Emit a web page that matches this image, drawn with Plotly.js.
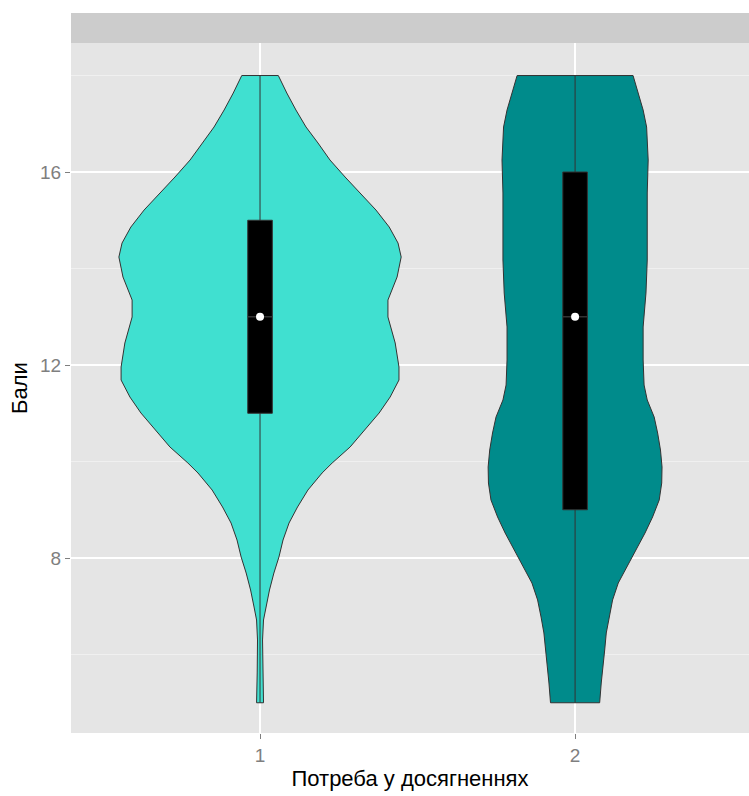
<!DOCTYPE html>
<html>
<head>
<meta charset="utf-8">
<script src="https://cdn.plot.ly/plotly-3.0.1.min.js"></script>
<style>html,body{margin:0;padding:0;background:#fff;}#chart{width:749px;height:796px;}</style>
</head>
<body>
<div id="chart"></div>
<script>
// ---- data ----
const groups = [1, 2];
const groupLabels = ['1', '2'];
const fillColors = ['#40E0D0', '#008B8B'];

// violin density profiles: score levels and half-widths (in x-axis units)
const v1Levels = [18.0, 17.637, 17.285, 16.933, 16.601, 16.249, 15.896, 15.565, 15.212, 14.86, 14.528, 14.238, 13.824, 13.347, 12.995, 12.456, 11.959, 11.689, 11.337, 11.005, 10.653, 10.301, 9.969, 9.762, 9.409, 9.057, 8.725, 8.373, 8.021, 7.689, 7.337, 6.984, 6.715, 6.301, 5.617, 5.202, 5.0];
const v1Half   = [0.058, 0.085, 0.114, 0.146, 0.184, 0.222, 0.270, 0.317, 0.368, 0.410, 0.438, 0.448, 0.435, 0.406, 0.406, 0.429, 0.441, 0.441, 0.413, 0.378, 0.333, 0.286, 0.229, 0.197, 0.152, 0.119, 0.092, 0.073, 0.060, 0.044, 0.030, 0.019, 0.011, 0.008, 0.009, 0.010, 0.011];
const v2Levels = [18.0, 17.637, 17.285, 16.933, 16.249, 15.565, 14.86, 14.176, 13.492, 12.788, 12.104, 11.585, 11.275, 10.922, 10.591, 10.238, 9.886, 9.554, 9.202, 8.85, 8.518, 8.166, 7.813, 7.482, 7.13, 6.777, 6.446, 6.093, 5.741, 5.409, 5.0];
const v2Half   = [0.184, 0.200, 0.216, 0.227, 0.232, 0.229, 0.229, 0.229, 0.225, 0.216, 0.216, 0.219, 0.229, 0.251, 0.262, 0.271, 0.276, 0.275, 0.267, 0.246, 0.222, 0.194, 0.164, 0.137, 0.119, 0.108, 0.099, 0.094, 0.088, 0.083, 0.078];

// box plot statistics per group
const whiskerLow  = [5, 5];
const q1          = [11, 9];
const medians     = [13, 13];
const q3          = [15, 16];
const whiskerHigh = [18, 18];

const yTicks = [8, 12, 16];
const yMinor = [6, 10, 14, 18];

// ---- build traces ----
const levels = [v1Levels, v2Levels];
const halves = [v1Half, v2Half];
const boxHalf = 0.039;
const edge = '#333333';
const traces = [];

groups.forEach((g, i) => {
  const L = levels[i], H = halves[i];
  const xs = [], ys = [];
  for (let k = 0; k < L.length; k++) { xs.push(g + H[k]); ys.push(L[k]); }
  for (let k = L.length - 1; k >= 0; k--) { xs.push(g - H[k]); ys.push(L[k]); }
  xs.push(xs[0]); ys.push(ys[0]);
  traces.push({type: 'scatter', mode: 'lines', x: xs, y: ys, fill: 'toself',
    fillcolor: fillColors[i], line: {color: edge, width: 1}, hoverinfo: 'skip', showlegend: false});
});

groups.forEach((g, i) => {
  // whisker
  traces.push({type: 'scatter', mode: 'lines', x: [g, g], y: [whiskerLow[i], whiskerHigh[i]],
    line: {color: edge, width: 1}, hoverinfo: 'skip', showlegend: false});
  // box
  traces.push({type: 'scatter', mode: 'lines',
    x: [g - boxHalf, g + boxHalf, g + boxHalf, g - boxHalf, g - boxHalf],
    y: [q1[i], q1[i], q3[i], q3[i], q1[i]], fill: 'toself', fillcolor: '#000000',
    line: {color: edge, width: 1}, hoverinfo: 'skip', showlegend: false});
  // median line
  traces.push({type: 'scatter', mode: 'lines', x: [g - boxHalf, g + boxHalf], y: [medians[i], medians[i]],
    line: {color: edge, width: 1.5}, hoverinfo: 'skip', showlegend: false});
  // median point
  traces.push({type: 'scatter', mode: 'markers', x: [g], y: [medians[i]],
    marker: {color: '#FFFFFF', size: 8, line: {width: 0}}, hoverinfo: 'skip', showlegend: false});
});

const font = 'Arial, "Liberation Sans", sans-serif';
const layout = {
  width: 749, height: 796,
  margin: {l: 71, r: 0, t: 43, b: 63, pad: 0},
  paper_bgcolor: '#FFFFFF', plot_bgcolor: '#E5E5E5',
  showlegend: false,
  font: {family: font},
  xaxis: {
    range: [0.4, 2.552], tickvals: groups, ticktext: groupLabels,
    ticks: 'outside', ticklen: 5, tickwidth: 1, tickcolor: '#7F7F7F',
    tickfont: {size: 19, color: '#7F7F7F', family: font},
    showgrid: true, gridcolor: '#FFFFFF', gridwidth: 1.5, zeroline: false, showline: false,
    title: {text: 'Потреба у досягненнях', font: {size: 22, color: '#000000', family: font}, standoff: 5}
  },
  yaxis: {
    range: [4.373, 18.674], tickvals: yTicks, ticktext: yTicks.map(String),
    ticks: 'outside', ticklen: 5, tickwidth: 1, tickcolor: '#7F7F7F',
    tickfont: {size: 19, color: '#7F7F7F', family: font},
    showgrid: true, gridcolor: '#FFFFFF', gridwidth: 1.5, zeroline: false, showline: false,
    minor: {tickvals: yMinor, showgrid: true, gridcolor: '#F2F2F2', gridwidth: 0.8, ticks: ''},
    title: {text: 'Бали', font: {size: 22, color: '#000000', family: font}, standoff: 6}
  },
  shapes: [{type: 'rect', xref: 'paper', yref: 'paper', x0: 0, x1: 1, y0: 1, y1: 1 + 30 / 690,
    fillcolor: '#CCCCCC', line: {width: 0}, layer: 'above'}]
};

Plotly.newPlot('chart', traces, layout, {displayModeBar: false, staticPlot: true});
</script>
</body>
</html>
